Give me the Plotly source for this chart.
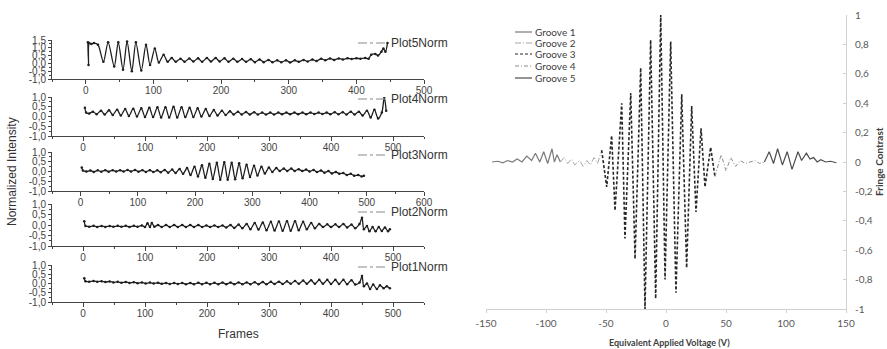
import plotly.graph_objects as go

# ---------------- data: left panel (frames vs normalized intensity) -------------
plot5_frames = [3, 4, 5, 8, 12, 18, 26, 33, 42, 48, 55, 61, 68, 74, 82, 89, 95, 102, 108, 115, 121, 127,
                133, 140, 146, 153, 159, 166, 172, 179, 185, 192, 198, 205, 211, 218, 224, 231, 237, 244,
                250, 257, 263, 270, 276, 283, 289, 296, 302, 309, 315, 322, 328, 335, 341, 348, 354, 361,
                367, 374, 380, 387, 393, 400, 406, 413, 418, 422, 428, 432, 437, 440, 443, 446]
plot5_values = [1.35, -0.1, 1.3, 1.25, 1.3, 1.2, 0.1, 1.35, -0.2, 1.35, -0.4, 1.4, -0.5, 1.35, -0.45, 1.2,
                -0.1, 0.95, 0.05, 0.55, 0.1, 0.35,
                0.1, 0.3, 0.1, 0.32, 0.12, 0.33, 0.1, 0.35, 0.12, 0.35, 0.12, 0.33, 0.1, 0.3, 0.1, 0.28, 0.1, 0.27,
                0.08, 0.25, 0.08, 0.22, 0.08, 0.2, 0.07, 0.2, 0.06, 0.2, 0.1, 0.22, 0.12, 0.25, 0.15, 0.3, 0.2, 0.32,
                0.22, 0.32, 0.25, 0.33, 0.28, 0.33, 0.3, 0.35, 0.3, 0.55, 0.6, 0.5, 0.75, 0.95, 0.75, 1.3]

plot4_frames = [3, 5, 10, 16, 22, 29, 35, 42, 48, 55, 61, 68, 74, 81, 87, 94, 100, 107, 113, 120, 126, 133,
                139, 146, 152, 159, 165, 172, 178, 185, 191, 198, 204, 211, 217, 224, 230, 237, 243, 250,
                256, 263, 269, 276, 282, 289, 295, 302, 308, 315, 321, 328, 334, 341, 347, 354, 360, 367,
                373, 380, 386, 393, 399, 406, 412, 419, 425, 432, 438, 445, 451, 458, 464, 470, 476, 482,
                486, 489]
plot4_values = [0.45, 0.2, 0.15, 0.25, 0.12, 0.3, 0.1, 0.32, 0.08, 0.35, 0.05, 0.38, 0.03, 0.4, 0.0, 0.42,
                -0.02, 0.45, -0.03, 0.47, -0.05, 0.48, -0.05, 0.5, -0.05, 0.48, -0.03, 0.45, -0.02, 0.42,
                0.0, 0.38, 0.03, 0.33, 0.05, 0.3, 0.08, 0.27, 0.1, 0.25, 0.1, 0.23, 0.1, 0.22, 0.1, 0.2,
                0.1, 0.2, 0.1, 0.2, 0.12, 0.2, 0.12, 0.2, 0.12, 0.2, 0.12, 0.2, 0.13, 0.2, 0.13, 0.2, 0.12,
                0.22, 0.12, 0.22, 0.1, 0.25, 0.1, 0.25, 0.05, 0.3, -0.05, 0.35, -0.1, 0.2, 1.0, 0.3]

plot3_frames = [2, 4, 10, 17, 23, 30, 36, 43, 49, 56, 62, 69, 75, 82, 88, 95, 101, 108, 114, 121, 127, 134,
                140, 147, 153, 160, 166, 173, 179, 186, 192, 199, 205, 212, 218, 225, 231, 238, 244, 251,
                257, 264, 270, 277, 283, 290, 296, 303, 309, 316, 322, 329, 335, 342, 348, 355, 361, 368,
                374, 381, 387, 394, 400, 407, 413, 420, 426, 433, 439, 446, 452, 459, 465, 472, 478, 485,
                491, 495]
plot3_values = [0.2, 0.05, 0.0, 0.05, -0.02, 0.06, -0.01, 0.07, -0.01, 0.07, 0.0, 0.07, 0.0, 0.08, 0.0,
                0.08, -0.01, 0.07, -0.02, 0.07, -0.03, 0.06, -0.04, 0.08, -0.06, 0.1, -0.08, 0.13, -0.12,
                0.18, -0.18, 0.25, -0.25, 0.32, -0.32, 0.4, -0.38, 0.45, -0.42, 0.48, -0.42, 0.45, -0.4,
                0.42, -0.35, 0.35, -0.28, 0.3, -0.2, 0.25, -0.1, 0.2, -0.02, 0.18, 0.02, 0.15, 0.03, 0.15,
                0.03, 0.12, 0.02, 0.1, 0.0, 0.08, -0.03, 0.05, -0.06, 0.02, -0.1, -0.02, -0.12, -0.08,
                -0.18, -0.12, -0.22, -0.18, -0.25, -0.22]

plot2_frames = [2, 4, 10, 17, 23, 30, 36, 43, 49, 56, 62, 69, 75, 82, 88, 95, 100, 104, 108, 111, 115, 121,
                127, 134, 140, 147, 153, 160, 166, 173, 179, 186, 192, 199, 205, 212, 218, 225, 231, 238,
                244, 251, 257, 264, 270, 277, 283, 290, 296, 303, 309, 316, 322, 329, 335, 342, 348, 355,
                361, 368, 374, 381, 387, 394, 400, 407, 413, 420, 426, 433, 439, 446, 450, 453, 458, 462,
                467, 472, 477, 482, 487, 492, 495]
plot2_values = [0.18, -0.05, -0.08, -0.04, -0.09, -0.05, -0.09, -0.05, -0.08, -0.04, -0.08, -0.04, -0.09,
                -0.04, -0.08, -0.02, -0.1, 0.08, -0.1, 0.1, -0.08, 0.0, -0.1, 0.0, -0.1, 0.0, -0.1, 0.0,
                -0.1, 0.0, -0.1, 0.0, -0.1, -0.02, -0.1, -0.02, -0.1, -0.02, -0.12, 0.0, -0.14, 0.02, -0.16,
                0.05, -0.2, 0.1, -0.22, 0.12, -0.25, 0.15, -0.26, 0.17, -0.27, 0.18, -0.27, 0.18, -0.25,
                0.15, -0.2, 0.1, -0.15, 0.05, -0.1, 0.03, -0.1, 0.03, -0.1, 0.05, -0.12, 0.02, -0.15, 0.05,
                0.35, -0.2, -0.05, -0.3, -0.1, -0.3, -0.1, -0.28, -0.12, -0.3, -0.2]

plot1_frames = [2, 4, 10, 17, 23, 30, 36, 43, 49, 56, 62, 69, 75, 82, 88, 95, 101, 108, 114, 121, 127, 134,
                140, 147, 153, 160, 166, 173, 179, 186, 192, 199, 205, 212, 218, 225, 231, 238, 244, 251,
                257, 264, 270, 277, 283, 290, 296, 303, 309, 316, 322, 329, 335, 342, 348, 355, 361, 368,
                374, 381, 387, 394, 400, 407, 413, 420, 426, 433, 439, 446, 450, 453, 458, 463, 468, 474,
                479, 485, 490, 495]
plot1_values = [0.28, 0.12, 0.1, 0.14, 0.1, 0.12, 0.08, 0.11, 0.06, 0.09, 0.04, 0.08, 0.03, 0.07, 0.02,
                0.06, 0.0, 0.05, 0.0, 0.04, -0.02, 0.03, -0.03, 0.03, -0.03, 0.03, -0.04, 0.03, -0.04, 0.04,
                -0.04, 0.04, -0.04, 0.04, -0.04, 0.05, -0.04, 0.05, -0.04, 0.06, -0.04, 0.06, -0.04, 0.07,
                -0.04, 0.08, -0.04, 0.09, -0.03, 0.1, -0.03, 0.12, -0.02, 0.14, -0.02, 0.16, -0.02, 0.18,
                -0.02, 0.2, -0.02, 0.2, -0.03, 0.2, -0.03, 0.2, -0.04, 0.18, -0.05, 0.05, 0.4, -0.15, 0.0,
                -0.3, -0.05, -0.3, -0.1, -0.25, -0.15, -0.25]

left_names = ["Plot5Norm", "Plot4Norm", "Plot3Norm", "Plot2Norm", "Plot1Norm"]
left_ytick_vals5 = [-1.0, -0.5, 0.0, 0.5, 1.0, 1.5]
left_ytick_text5 = ["-1,0", "-0,5", "0,0", "0,5", "1,0", "1,5"]
left_ytick_vals = [-1.0, -0.5, 0.0, 0.5, 1.0]
left_ytick_text = ["-1,0", "-0,5", "0,0", "0,5", "1,0"]

# ---------------- data: right panel (fringe contrast) ------------------------
groove_names = ["Groove 1", "Groove 2", "Groove 3", "Groove 4", "Groove 5"]
groove1_v = [-145, -140, -136, -132, -128, -124, -120, -116, -112, -108.8, -105.2, -101.9, -98.6, -95, -93,
             -90.8, -88]
groove1_fc = [0.0, 0.005, -0.005, 0.01, 0.0, 0.02, 0.0, 0.04, 0.01, 0.06, 0.0, 0.07, -0.01, 0.09, 0.0, 0.05, 0.0]
groove2_v = [-88, -85, -82, -79, -76, -72, -69, -66, -63, -60, -57, -53.6]
groove2_fc = [0.0, 0.03, -0.01, 0.02, -0.02, 0.01, -0.03, 0.01, -0.02, 0.03, -0.01, 0.08]
groove3_v = [-53.6, -49.4, -45.3, -42.5, -36.9, -34.2, -29.4, -25.8, -21.1, -17.5, -12.8, -8.6, -4.4, -0.8,
             3.9, 8.3, 13.1, 17.2, 21.4, 25.0, 29.2, 32.5, 37.2, 40.8]
groove3_fc = [0.08, -0.17, 0.18, -0.33, 0.40, -0.52, 0.47, -0.66, 0.64, -1.0, 0.83, -0.93, 1.0, -0.80,
              0.82, -0.89, 0.46, -0.72, 0.38, -0.34, 0.23, -0.17, 0.10, -0.10]
groove4_v = [40.8, 46, 50, 54, 58, 62, 66, 70, 74, 78, 82]
groove4_fc = [-0.10, 0.05, -0.06, 0.03, -0.03, 0.01, -0.01, 0.0, 0.01, -0.01, 0.0]
groove5_v = [82, 86, 89.6, 93, 97, 101, 105, 107, 110, 113, 117, 120, 123, 126, 129, 133, 137, 142]
groove5_fc = [0.0, 0.07, -0.01, 0.09, -0.02, 0.07, -0.05, 0.0, 0.07, 0.01, 0.06, 0.02, 0.03, 0.0, 0.015,
              0.0, 0.005, -0.005]

right_xtick_vals = [-150, -100, -50, 0, 50, 100, 150]
right_xtick_text = ["-150", "-100", "-50", "0", "50", "100", "150"]
right_ytick_vals = [-1, -0.8, -0.6, -0.4, -0.2, 0, 0.2, 0.4, 0.6, 0.8, 1]
right_ytick_text = ["-1", "-0,8", "-0,6", "-0,4", "-0,2", "0", "0,2", "0,4", "0,6", "0,8", "1"]

# ---------------- layout helpers ---------------------------------------------
W, H = 887, 349
def fx(p):
    return p / W
def fy(p):
    return 1 - p / H

LFONT = "Liberation Sans, Arial, sans-serif"
RFONT = "Lato, Open Sans, sans-serif"

fig = go.Figure()

left_series = [(plot5_frames, plot5_values), (plot4_frames, plot4_values), (plot3_frames, plot3_values),
               (plot2_frames, plot2_values), (plot1_frames, plot1_values)]
left_boxes = [(40, 79), (97, 136), (152, 191), (204, 246), (265, 302)]
left_xmax = [500, 550, 600, 550, 550]
left_ymin_max = [(-1.0, 1.5), (-1.0, 1.0), (-1.0, 1.0), (-1.0, 1.0), (-1.0, 1.0)]
legend_y = [43, 99, 155, 212, 267]

layout = dict(template="none", width=W, height=H, margin=dict(l=0, r=0, t=0, b=0, pad=0),
              paper_bgcolor="white", plot_bgcolor="white", showlegend=False)
annotations = []
shapes = []

for i, ((fr, vals), (top, bot)) in enumerate(zip(left_series, left_boxes)):
    n = i + 1
    xa = "x" if n == 1 else f"x{n}"
    ya = "y" if n == 1 else f"y{n}"
    fig.add_trace(go.Scatter(x=fr, y=vals, mode="lines+markers", xaxis=xa, yaxis=ya,
                             line=dict(color="#1e1e1e", width=1.3, shape="spline", smoothing=0.8),
                             marker=dict(size=2.5, color="#1e1e1e"), name=left_names[i]))
    xkey = "xaxis" if n == 1 else f"xaxis{n}"
    ykey = "yaxis" if n == 1 else f"yaxis{n}"
    layout[xkey] = dict(domain=[fx(52), fx(424)], anchor=ya, range=[-50, left_xmax[i]], automargin=False,
                        tickmode="linear", tick0=0, dtick=100, showline=True, linecolor="#444",
                        linewidth=1, ticks="outside", ticklen=4, tickcolor="#444", showgrid=False,
                        zeroline=False, tickfont=dict(family=LFONT, size=10, color="#444"),
                        ticklabelstandoff=-2,
                        minor=dict(dtick=50, ticks="outside", ticklen=2, tickcolor="#444", showgrid=False))
    yv = left_ytick_vals5 if n == 1 else left_ytick_vals
    yt = left_ytick_text5 if n == 1 else left_ytick_text
    layout[ykey] = dict(domain=[fy(bot), fy(top)], anchor=xa, range=list(left_ymin_max[i]), automargin=False,
                        tickmode="array", tickvals=yv, ticktext=yt, showline=True, linecolor="#444",
                        linewidth=1, ticks="outside", ticklen=3, tickcolor="#444", showgrid=False,
                        zeroline=False, tickfont=dict(family=LFONT, size=10, color="#444"),
                        minor=dict(dtick=0.25, ticks="outside", ticklen=2, tickcolor="#444", showgrid=False))
    # legend sample line + label
    shapes.append(dict(type="line", xref="paper", yref="paper", x0=fx(358), x1=fx(388),
                       y0=fy(legend_y[i]), y1=fy(legend_y[i]),
                       line=dict(color="#8a8a8a", width=1.2, dash="dashdot")))
    annotations.append(dict(xref="paper", yref="paper", x=fx(389), y=fy(legend_y[i]), xanchor="left",
                            yanchor="middle", showarrow=False, text=left_names[i],
                            font=dict(family=LFONT, size=12, color="#333")))

annotations.append(dict(xref="paper", yref="paper", x=fx(238), y=fy(334), showarrow=False,
                        text="Frames", font=dict(family=LFONT, size=12, color="#333"),
                        xanchor="center", yanchor="middle"))
annotations.append(dict(xref="paper", yref="paper", x=fx(12), y=fy(172), showarrow=False,
                        text="Normalized Intensity", textangle=-90,
                        font=dict(family=LFONT, size=12, color="#333"),
                        xanchor="center", yanchor="middle"))

# ---------------- right panel ------------------------------------------------
groove_data = [(groove1_v, groove1_fc), (groove2_v, groove2_fc), (groove3_v, groove3_fc),
               (groove4_v, groove4_fc), (groove5_v, groove5_fc)]
groove_styles = [dict(color="#7a7a7a", width=1.2, dash="solid"),
                 dict(color="#a6a6a6", width=1.0, dash="6px,2px,1px,2px"),
                 dict(color="#262626", width=1.6, dash="3px,2px"),
                 dict(color="#8c8c8c", width=1.0, dash="4px,2px,1px,2px"),
                 dict(color="#4d4d4d", width=1.2, dash="solid")]
for (v, fc), st, nm in zip(groove_data, groove_styles, groove_names):
    fig.add_trace(go.Scatter(x=v, y=fc, mode="lines", xaxis="x6", yaxis="y6", line=st, name=nm))

layout["xaxis6"] = dict(domain=[fx(486), fx(846)], anchor="y6", range=[-150, 150], tickmode="array",
                        tickvals=right_xtick_vals, ticktext=right_xtick_text, showline=True, automargin=False,
                        linecolor="#d0d0d0", linewidth=1, ticks="outside", ticklen=3, tickcolor="#d0d0d0",
                        showgrid=False, zeroline=False, ticklabelstandoff=2,
                        tickfont=dict(family=RFONT, size=10, color="#595959"))
layout["yaxis6"] = dict(domain=[fy(309), fy(15)], anchor="x6", side="right", range=[-1, 1],
                        tickmode="array", tickvals=right_ytick_vals, ticktext=right_ytick_text, automargin=False,
                        showline=True, linecolor="#d0d0d0", linewidth=1, ticks="inside", ticklen=3,
                        tickcolor="#d0d0d0", showgrid=False, zeroline=False, ticklabelstandoff=6,
                        tickfont=dict(family=RFONT, size=10, color="#595959"))

annotations.append(dict(xref="paper", yref="paper", x=fx(669), y=fy(342), showarrow=False,
                        text="<b>Equivalent Applied Voltage (V)</b>",
                        font=dict(family=RFONT, size=9, color="#404040"),
                        xanchor="center", yanchor="middle"))
annotations.append(dict(xref="paper", yref="paper", x=fx(879), y=fy(162), showarrow=False,
                        text="<b>Fringe Contrast</b>", textangle=-90,
                        font=dict(family=RFONT, size=10, color="#404040"),
                        xanchor="center", yanchor="middle"))

legend_rows = [32, 43, 54, 66, 78]
for nm, st, ry in zip(groove_names, groove_styles, legend_rows):
    shapes.append(dict(type="line", xref="paper", yref="paper", x0=fx(515), x1=fx(532),
                       y0=fy(ry), y1=fy(ry), line=dict(color=st["color"], width=1.2, dash=st["dash"])))
    annotations.append(dict(xref="paper", yref="paper", x=fx(533), y=fy(ry), showarrow=False,
                            text=nm, font=dict(family=RFONT, size=10, color="#404040"),
                            xanchor="left", yanchor="middle"))

layout["annotations"] = annotations
layout["shapes"] = shapes
fig.update_layout(**layout)
fig.write_html("out.html")
